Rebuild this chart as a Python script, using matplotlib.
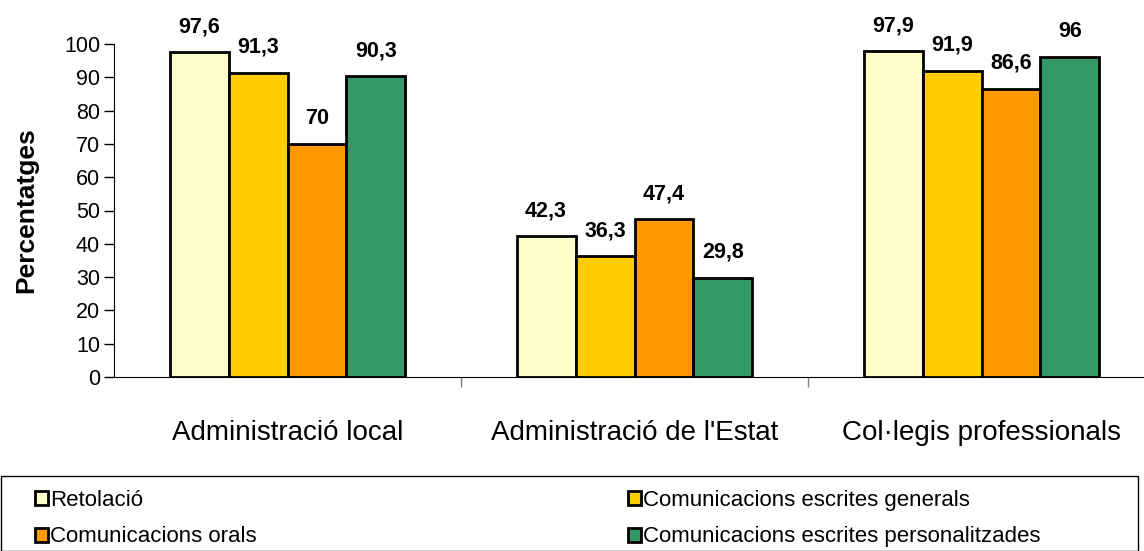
import matplotlib.pyplot as plt
import numpy as np
from matplotlib.patches import Rectangle

plt.rcParams['font.family'] = ['Liberation Sans', 'DejaVu Sans']

# Data
categories = ['Administració local', "Administració de l'Estat", 'Col·legis professionals']
series = ['Retolació', 'Comunicacions escrites generals',
          'Comunicacions orals', 'Comunicacions escrites personalitzades']
retolacio = [97.6, 42.3, 97.9]
escrites_generals = [91.3, 36.3, 91.9]
orals = [70, 47.4, 86.6]
escrites_personals = [90.3, 29.8, 96]
value_labels = [['97,6', '42,3', '97,9'],
                ['91,3', '36,3', '91,9'],
                ['70', '47,4', '86,6'],
                ['90,3', '29,8', '96']]
colors = ['#FFFFCC', '#FFCC00', '#FF9900', '#339966']

fig = plt.figure(figsize=(11.44, 5.51), dpi=100)
ax = fig.add_axes([114 / 1144, 1 - 377 / 551, (1144 - 114) / 1144, 333 / 551])

x = np.arange(len(categories))
width = 0.17
all_vals = [retolacio, escrites_generals, orals, escrites_personals]
bars = []
for i, vals in enumerate(all_vals):
    pos = x + (i - 1.5) * width
    b = ax.bar(pos, vals, width, color=colors[i], edgecolor='black', linewidth=2,
               label=series[i], zorder=3)
    bars.append(b)
    for xp, v, lab in zip(pos, vals, value_labels[i]):
        ax.text(xp, v + 6, lab, ha='center', va='baseline', fontsize=15.5,
                fontweight='bold', clip_on=False)

ax.set_xlim(-0.5, -0.5 + (1144 - 114) / 347)
ax.set_ylim(0, 100)
ax.set_yticks(range(0, 101, 10))
ax.tick_params(axis='y', labelsize=15.5, length=7, width=1, pad=3)
ax.set_xticks([0.5, 1.5])
ax.set_xticklabels([])
ax.tick_params(axis='x', length=7, width=1, direction='out', color='gray')
for xc, cat in zip(x, categories):
    ax.text(xc, -13, cat, ha='center', va='top', fontsize=20)

ax.spines['top'].set_visible(False)
ax.spines['right'].set_visible(False)
ax.set_ylabel('Percentatges', fontsize=19, fontweight='bold')
ax.yaxis.set_label_coords(-76 / 1030, 0.5)

# Legend frame
fig.patches.append(Rectangle((1 / 1144, 0), 1137 / 1144, 75 / 551, transform=fig.transFigure,
                             facecolor='white', edgecolor='black', linewidth=1))
leg_kw = dict(frameon=False, fontsize=16, handlelength=0.6, handleheight=0.6,
              handletextpad=0.1, labelspacing=0.7, loc='upper left', borderaxespad=0)
fig.legend([bars[0], bars[2]], [series[0], series[2]],
           bbox_to_anchor=(26 / 1144, 1 - 481 / 551), **leg_kw)
fig.legend([bars[1], bars[3]], [series[1], series[3]],
           bbox_to_anchor=(619 / 1144, 1 - 481 / 551), **leg_kw)

fig.savefig('out.png', dpi=100)
